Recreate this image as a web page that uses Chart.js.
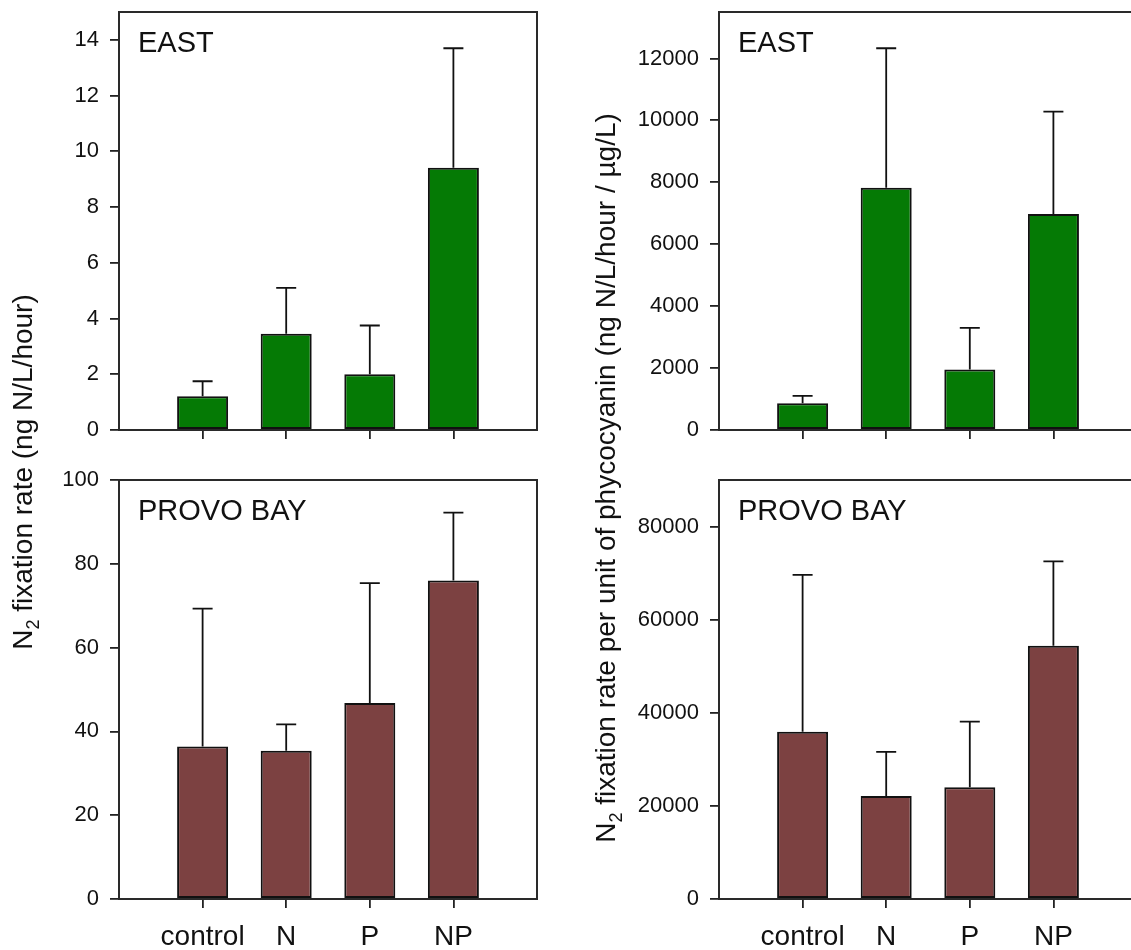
<!DOCTYPE html>
<html>
<head>
<meta charset="utf-8">
<script src="https://cdn.jsdelivr.net/npm/chart.js@4.4.1/dist/chart.umd.min.js"></script>
<style>
  html, body { margin: 0; padding: 0; background: #fff; overflow: hidden; width: 1131px; height: 950px; }
  body { position: relative; font-family: "Liberation Sans", Arial, sans-serif; color: #111; }
  canvas { position: absolute; }
  .ytitle {
    position: absolute; width: 900px; height: 32px; line-height: 32px;
    text-align: center; white-space: nowrap; font-size: 28px; color: #111;
    transform: rotate(-90deg); transform-origin: 50% 50%;
  }
  .ytitle sub { font-size: 18px; vertical-align: -7px; line-height: 0; }
</style>
</head>
<body>
<canvas id="eastRate" width="560" height="490" style="left:0;top:-20px"></canvas>
<canvas id="eastPc" width="560" height="490" style="left:600px;top:-20px"></canvas>
<canvas id="provoRate" width="560" height="495" style="left:0;top:455px"></canvas>
<canvas id="provoPc" width="560" height="495" style="left:600px;top:455px"></canvas>

<div class="ytitle" style="left:-427px;top:456px">N<sub>2</sub> fixation rate (ng N/L/hour)</div>
<div class="ytitle" style="left:156px;top:462px">N<sub>2</sub> fixation rate per unit of phycocyanin (ng N/L/hour / µg/L)</div>

<script>
// Treatments
const categories = ['control', 'N', 'P', 'NP'];

// EAST: N2 fixation rate (ng N/L/hour), mean and SD
const eastRateMean = [1.21, 3.45, 2.0, 9.41];
const eastRateSD   = [0.54, 1.65, 1.75, 4.29];

// EAST: rate per unit phycocyanin (ng N/L/hour / µg/L)
const eastPcMean = [860, 7820, 1955, 6980];
const eastPcSD   = [240, 4510, 1345, 3300];

// PROVO BAY: N2 fixation rate (ng N/L/hour)
const provoRateMean = [36.4, 35.4, 46.8, 76.0];
const provoRateSD   = [32.9, 6.3, 28.6, 16.2];

// PROVO BAY: rate per unit phycocyanin
const provoPcMean = [35900, 22100, 24000, 54400];
const provoPcSD   = [33700, 9500, 14100, 18100];

// Y tick values and axis tops per panel
const eastRateTicks  = [0, 2, 4, 6, 8, 10, 12, 14];
const eastPcTicks    = [0, 2000, 4000, 6000, 8000, 10000, 12000];
const provoRateTicks = [0, 20, 40, 60, 80, 100];
const provoPcTicks   = [0, 20000, 40000, 60000, 80000];
const eastRateMax  = 15;
const eastPcMax    = 13500;
const provoRateMax = 100;
const provoPcMax   = 90000;

const GREEN = '#057a05';
const BROWN = '#7c4141';
const INK = '#111';
const FONT = '"Liberation Sans", Arial, sans-serif';

Chart.defaults.font.family = FONT;
Chart.defaults.color = INK;

// Upward error bars with a cap, placed via the y scale
const errorBars = {
  id: 'errorBars',
  afterDatasetsDraw(chart, args, opts) {
    const meta = chart.getDatasetMeta(0);
    const ys = chart.scales.y;
    const ctx = chart.ctx;
    ctx.save();
    ctx.strokeStyle = INK;
    ctx.lineWidth = 1.8;
    meta.data.forEach((bar, i) => {
      const top = ys.getPixelForValue(opts.mean[i] + opts.sd[i]);
      ctx.beginPath();
      ctx.moveTo(bar.x, bar.y);
      ctx.lineTo(bar.x, top);
      ctx.moveTo(bar.x - 10, top);
      ctx.lineTo(bar.x + 10, top);
      ctx.stroke();
    });
    ctx.restore();
  }
};

// Box round the plot area and the panel name in its upper-left corner
const frame = {
  id: 'frame',
  afterDraw(chart, args, opts) {
    const a = chart.chartArea;
    const ctx = chart.ctx;
    ctx.save();
    ctx.strokeStyle = '#2a2a2a';
    ctx.lineWidth = 2;
    ctx.strokeRect(a.left, a.top, a.right - a.left, a.bottom - a.top);
    ctx.fillStyle = INK;
    ctx.font = '29px ' + FONT;
    ctx.textBaseline = 'alphabetic';
    ctx.textAlign = 'left';
    ctx.fillText(opts.label, a.left + 19, a.top + 40);
    ctx.restore();
  }
};

function makePanel(id, label, mean, sd, yTicks, yMax, color, showCats, padTop, xHeight) {
  new Chart(document.getElementById(id), {
    type: 'bar',
    data: {
      datasets: [{
        data: mean.map((m, i) => ({ x: i + 1, y: m })),
        backgroundColor: color,
        borderColor: INK,
        borderWidth: 2,
        borderSkipped: false,
        barPercentage: 0.61,
        categoryPercentage: 1
      }]
    },
    options: {
      responsive: false,
      animation: false,
      layout: { padding: { top: padTop, right: 23, left: 0, bottom: 0 } },
      plugins: {
        legend: { display: false },
        tooltip: { enabled: false },
        errorBars: { mean: mean, sd: sd },
        frame: { label: label }
      },
      scales: {
        x: {
          type: 'linear',
          offset: false,
          min: 0,
          max: 5,
          afterFit: s => { s.height = xHeight; },
          afterBuildTicks: s => { s.ticks = categories.map((c, i) => ({ value: i + 1 })); },
          border: { display: false },
          grid: { offset: false, drawOnChartArea: false, drawTicks: true, tickLength: 9, color: '#222', lineWidth: 1.8 },
          ticks: {
            display: showCats,
            padding: 12,
            font: { size: 28 },
            color: INK,
            callback: v => categories[Math.round(v) - 1] ?? ''
          }
        },
        y: {
          min: 0,
          max: yMax,
          afterFit: s => { s.width = 119; },
          afterBuildTicks: s => { s.ticks = yTicks.map(v => ({ value: v })); },
          border: { display: false },
          grid: { drawOnChartArea: false, drawTicks: true, tickLength: 9, color: '#222', lineWidth: 1.8 },
          ticks: {
            padding: 11,
            font: { size: 22 },
            color: INK,
            callback: v => String(v)
          }
        }
      }
    },
    plugins: [errorBars, frame]
  });
}

makePanel('eastRate',  'EAST',      eastRateMean,  eastRateSD,  eastRateTicks,  eastRateMax,  GREEN, false, 32, 40);
makePanel('eastPc',    'EAST',      eastPcMean,    eastPcSD,    eastPcTicks,    eastPcMax,    GREEN, false, 32, 40);
makePanel('provoRate', 'PROVO BAY', provoRateMean, provoRateSD, provoRateTicks, provoRateMax, BROWN, true,  25, 51);
makePanel('provoPc',   'PROVO BAY', provoPcMean,   provoPcSD,   provoPcTicks,   provoPcMax,   BROWN, true,  25, 51);
</script>
</body>
</html>
